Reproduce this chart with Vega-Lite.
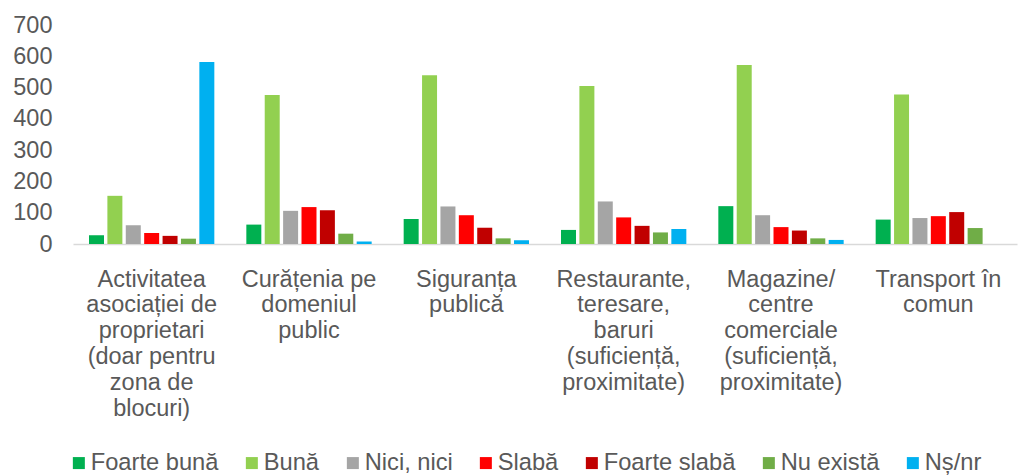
{
  "$schema": "https://vega.github.io/schema/vega-lite/v6.json",
  "width": 944,
  "height": 219,
  "autosize": {"type": "none"},
  "padding": {"left": 73, "top": 25, "right": 2, "bottom": 231},
  "background": "white",
  "config": {
    "view": {"stroke": null},
    "font": "Liberation Sans"
  },
  "data": {
    "values": [
      {"cat": "Activitatea|asociației de|proprietari|(doar pentru|zona de|blocuri)", "r": "Foarte bună", "v": 28},
      {"cat": "Activitatea|asociației de|proprietari|(doar pentru|zona de|blocuri)", "r": "Bună", "v": 154},
      {"cat": "Activitatea|asociației de|proprietari|(doar pentru|zona de|blocuri)", "r": "Nici, nici", "v": 60},
      {"cat": "Activitatea|asociației de|proprietari|(doar pentru|zona de|blocuri)", "r": "Slabă", "v": 35},
      {"cat": "Activitatea|asociației de|proprietari|(doar pentru|zona de|blocuri)", "r": "Foarte slabă", "v": 26},
      {"cat": "Activitatea|asociației de|proprietari|(doar pentru|zona de|blocuri)", "r": "Nu există", "v": 17},
      {"cat": "Activitatea|asociației de|proprietari|(doar pentru|zona de|blocuri)", "r": "Nș/nr", "v": 582},
      {"cat": "Curățenia pe|domeniul|public", "r": "Foarte bună", "v": 62},
      {"cat": "Curățenia pe|domeniul|public", "r": "Bună", "v": 476},
      {"cat": "Curățenia pe|domeniul|public", "r": "Nici, nici", "v": 106},
      {"cat": "Curățenia pe|domeniul|public", "r": "Slabă", "v": 118},
      {"cat": "Curățenia pe|domeniul|public", "r": "Foarte slabă", "v": 108},
      {"cat": "Curățenia pe|domeniul|public", "r": "Nu există", "v": 33},
      {"cat": "Curățenia pe|domeniul|public", "r": "Nș/nr", "v": 8},
      {"cat": "Siguranța|publică", "r": "Foarte bună", "v": 80},
      {"cat": "Siguranța|publică", "r": "Bună", "v": 539},
      {"cat": "Siguranța|publică", "r": "Nici, nici", "v": 120},
      {"cat": "Siguranța|publică", "r": "Slabă", "v": 92},
      {"cat": "Siguranța|publică", "r": "Foarte slabă", "v": 52},
      {"cat": "Siguranța|publică", "r": "Nu există", "v": 18},
      {"cat": "Siguranța|publică", "r": "Nș/nr", "v": 12},
      {"cat": "Restaurante,|teresare,|baruri|(suficiență,|proximitate)", "r": "Foarte bună", "v": 45},
      {"cat": "Restaurante,|teresare,|baruri|(suficiență,|proximitate)", "r": "Bună", "v": 505},
      {"cat": "Restaurante,|teresare,|baruri|(suficiență,|proximitate)", "r": "Nici, nici", "v": 136},
      {"cat": "Restaurante,|teresare,|baruri|(suficiență,|proximitate)", "r": "Slabă", "v": 85},
      {"cat": "Restaurante,|teresare,|baruri|(suficiență,|proximitate)", "r": "Foarte slabă", "v": 58},
      {"cat": "Restaurante,|teresare,|baruri|(suficiență,|proximitate)", "r": "Nu există", "v": 37},
      {"cat": "Restaurante,|teresare,|baruri|(suficiență,|proximitate)", "r": "Nș/nr", "v": 48},
      {"cat": "Magazine/|centre|comerciale|(suficiență,|proximitate)", "r": "Foarte bună", "v": 121},
      {"cat": "Magazine/|centre|comerciale|(suficiență,|proximitate)", "r": "Bună", "v": 572},
      {"cat": "Magazine/|centre|comerciale|(suficiență,|proximitate)", "r": "Nici, nici", "v": 92},
      {"cat": "Magazine/|centre|comerciale|(suficiență,|proximitate)", "r": "Slabă", "v": 54},
      {"cat": "Magazine/|centre|comerciale|(suficiență,|proximitate)", "r": "Foarte slabă", "v": 43},
      {"cat": "Magazine/|centre|comerciale|(suficiență,|proximitate)", "r": "Nu există", "v": 18},
      {"cat": "Magazine/|centre|comerciale|(suficiență,|proximitate)", "r": "Nș/nr", "v": 13},
      {"cat": "Transport în|comun", "r": "Foarte bună", "v": 78},
      {"cat": "Transport în|comun", "r": "Bună", "v": 478},
      {"cat": "Transport în|comun", "r": "Nici, nici", "v": 83},
      {"cat": "Transport în|comun", "r": "Slabă", "v": 89},
      {"cat": "Transport în|comun", "r": "Foarte slabă", "v": 102},
      {"cat": "Transport în|comun", "r": "Nu există", "v": 51}
    ]
  },
  "mark": {"type": "bar"},
  "encoding": {
    "x": {
      "field": "cat",
      "type": "nominal",
      "sort": null,
      "scale": {"paddingInner": 0, "paddingOuter": 0},
      "axis": {
        "title": null,
        "labelAngle": 0,
        "labelExpr": "split(datum.label, '|')",
        "labelFontSize": 23.5,
        "labelLineHeight": 25.8,
        "labelColor": "#595959",
        "labelPadding": 23,
        "labelLimit": 300,
        "labelBaseline": "top",
        "ticks": false,
        "tickSize": 0,
        "domainColor": "#d9d9d9",
        "domainWidth": 1.5
      }
    },
    "xOffset": {
      "field": "r",
      "type": "nominal",
      "sort": ["Foarte bună", "Bună", "Nici, nici", "Slabă", "Foarte slabă", "Nu există", "Nș/nr"],
      "scale": {"paddingInner": 0.185, "paddingOuter": 0.87}
    },
    "y": {
      "field": "v",
      "type": "quantitative",
      "scale": {"domain": [0, 700], "nice": false},
      "axis": {
        "title": null,
        "values": [0, 100, 200, 300, 400, 500, 600, 700],
        "grid": false,
        "domain": false,
        "ticks": false,
        "tickSize": 0,
        "labelFontSize": 23.5,
        "labelColor": "#595959",
        "labelPadding": 21
      }
    },
    "color": {
      "field": "r",
      "type": "nominal",
      "scale": {
        "domain": ["Foarte bună", "Bună", "Nici, nici", "Slabă", "Foarte slabă", "Nu există", "Nș/nr"],
        "range": ["#00B050", "#92D050", "#A5A5A5", "#FF0000", "#C00000", "#70AD47", "#00B0F0"]
      },
      "legend": {
        "title": null,
        "orient": "none",
        "direction": "horizontal",
        "columns": 7,
        "legendX": -6,
        "legendY": 426,
        "padding": 0,
        "symbolType": "square",
        "symbolSize": 144,
        "symbolStrokeWidth": 0,
        "labelFontSize": 23.7,
        "labelColor": "#595959",
        "labelOffset": 0,
        "columnPadding": 21,
        "labelLimit": 300
      }
    }
  }
}
